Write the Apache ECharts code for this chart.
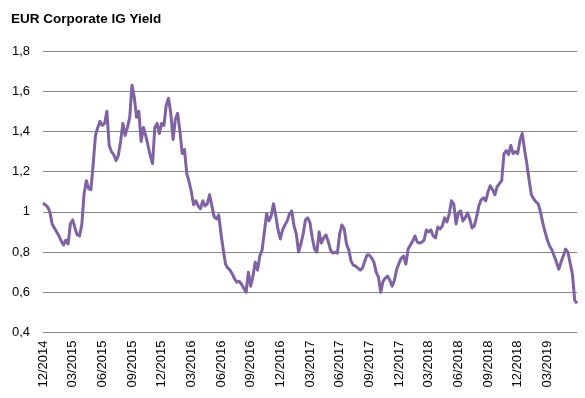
<!DOCTYPE html>
<html>
<head>
<meta charset="utf-8">
<script src="https://cdn.jsdelivr.net/npm/echarts@6/dist/echarts.min.js"></script>
<style>
html,body{margin:0;padding:0;background:#fff;}
#chart{width:585px;height:398px;}
</style>
</head>
<body>
<div id="chart"></div>
<script>
// Weekly observations starting Monday 2014-12-01
const startDate = '2014-12-01';
const tickLabels = ['12/2014','03/2015','06/2015','09/2015','12/2015','03/2016','06/2016','09/2016','12/2016',
  '03/2017','06/2017','09/2017','12/2017','03/2018','06/2018','09/2018','12/2018','03/2019'];
const yieldValues = [
  1.043,1.035,1.025,1.00,0.94,0.92,0.90,0.88,0.855,0.835,
  0.86,0.84,0.94,0.96,0.92,0.885,0.88,0.935,1.09,1.155,
  1.115,1.11,1.24,1.38,1.42,1.45,1.43,1.44,1.50,1.33,
  1.30,1.285,1.255,1.28,1.35,1.44,1.38,1.42,1.47,1.63,
  1.57,1.47,1.50,1.35,1.42,1.38,1.33,1.28,1.24,1.42,
  1.44,1.39,1.44,1.43,1.53,1.565,1.49,1.36,1.46,1.49,
  1.40,1.29,1.31,1.19,1.15,1.10,1.035,1.055,1.03,1.015,
  1.055,1.03,1.04,1.085,1.03,0.975,0.965,0.985,0.89,0.81,
  0.74,0.72,0.71,0.69,0.665,0.65,0.655,0.64,0.62,0.60,
  0.70,0.63,0.68,0.75,0.71,0.78,0.81,0.90,0.99,0.955,
  0.98,1.04,0.98,0.91,0.865,0.91,0.935,0.955,0.99,1.005,
  0.93,0.89,0.80,0.84,0.89,0.96,0.97,0.945,0.87,0.815,
  0.80,0.90,0.845,0.87,0.885,0.852,0.81,0.795,0.80,0.795,
  0.89,0.935,0.915,0.84,0.81,0.755,0.735,0.73,0.72,0.71,
  0.72,0.755,0.785,0.785,0.77,0.75,0.70,0.675,0.60,0.655,
  0.67,0.68,0.66,0.63,0.66,0.715,0.745,0.77,0.78,0.74,
  0.815,0.835,0.855,0.88,0.85,0.845,0.85,0.86,0.91,0.90,
  0.91,0.88,0.87,0.925,0.915,0.93,0.97,0.95,0.99,1.055,
  1.04,0.94,0.995,1.005,0.955,0.97,0.995,0.965,0.92,0.93,
  0.975,1.03,1.06,1.07,1.055,1.10,1.13,1.11,1.085,1.125,
  1.14,1.155,1.29,1.305,1.285,1.33,1.29,1.30,1.29,1.355,
  1.39,1.31,1.24,1.16,1.085,1.065,1.05,1.04,1.00,0.945,
  0.90,0.86,0.83,0.81,0.78,0.75,0.715,0.75,0.78,0.815,
  0.80,0.745,0.69,0.56,0.545
];
const weekDates = [];
(function(){
  const d0 = new Date(startDate + 'T00:00:00Z');
  for (let i = 0; i < yieldValues.length; i++) {
    const d = new Date(d0.getTime() + i * 7 * 86400000);
    weekDates.push(d.toISOString().slice(0, 10));
  }
})();
const WEEKS_PER_QUARTER = 13;
const FONT = "'Liberation Sans', Arial, sans-serif";

const chart = echarts.init(document.getElementById('chart'), null, {renderer: 'canvas'});
chart.setOption({
  animation: false,
  backgroundColor: '#ffffff',
  title: {
    text: 'EUR Corporate IG Yield',
    left: 6, top: 7,
    textStyle: {fontFamily: FONT, fontSize: 13.5, fontWeight: 'bold', color: '#000'}
  },
  grid: {left: 43, right: 8, top: 51, bottom: 65.5},
  xAxis: {
    type: 'category',
    data: weekDates,
    boundaryGap: false,
    axisLine: {show: false},
    axisTick: {show: false},
    splitLine: {show: false},
    axisLabel: {
      rotate: 90,
      margin: 8,
      fontFamily: FONT,
      fontSize: 13,
      color: '#000',
      interval: function (index) { return index % WEEKS_PER_QUARTER === 0; },
      formatter: function (value, index) {
        const k = Math.round(index / WEEKS_PER_QUARTER);
        return tickLabels[k] || '';
      }
    }
  },
  yAxis: {
    type: 'value',
    min: 0.4, max: 1.8, interval: 0.2,
    axisLine: {show: false},
    axisTick: {show: false},
    splitLine: {show: true, lineStyle: {color: '#868686', width: 1}},
    axisLabel: {
      margin: 13,
      fontFamily: FONT,
      fontSize: 13,
      color: '#000',
      formatter: function (v) { return String(Math.round(v * 10) / 10).replace('.', ','); }
    }
  },
  series: [{
    type: 'line',
    data: yieldValues,
    showSymbol: false,
    symbol: 'none',
    lineStyle: {color: '#7E62A1', width: 3, join: 'round'},
    itemStyle: {color: '#7E62A1'}
  }]
});
</script>
</body>
</html>
